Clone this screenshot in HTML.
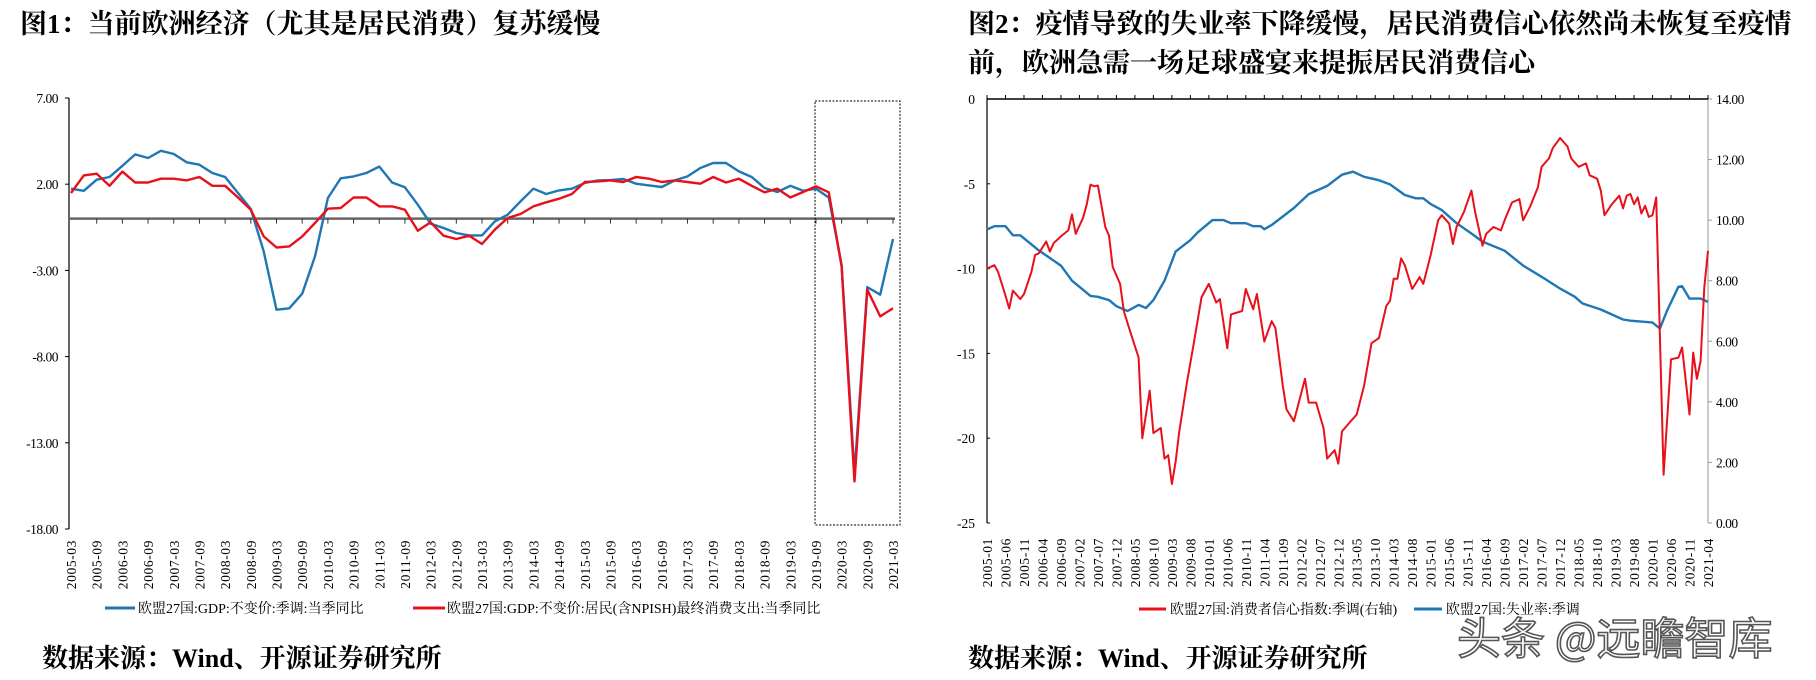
<!DOCTYPE html>
<html><head><meta charset="utf-8"><style>
html,body{margin:0;padding:0;background:#fff;}
svg{display:block;}
.t{font-family:"Liberation Serif","Noto Serif CJK SC",serif;}
</style></head><body>
<svg id="svg" width="1816" height="680" viewBox="0 0 1816 680" xmlns="http://www.w3.org/2000/svg">
<text class="t" x="20" y="33" font-size="27" font-weight="bold" fill="#000">图1：当前欧洲经济（尤其是居民消费）复苏缓慢</text>
<text class="t" x="968" y="33" font-size="27" font-weight="bold" fill="#000">图2：疫情导致的失业率下降缓慢，居民消费信心依然尚未恢复至疫情</text>
<text class="t" x="968" y="72" font-size="27" font-weight="bold" fill="#000">前，欧洲急需一场足球盛宴来提振居民消费信心</text>
<g id="c1"></g>
<g id="c2"></g>
<text class="t" x="42" y="667" font-size="26" font-weight="bold" fill="#000">数据来源：Wind、开源证券研究所</text>
<text class="t" x="968" y="667" font-size="26" font-weight="bold" fill="#000">数据来源：Wind、开源证券研究所</text>
<text x="1457" y="654" font-family="'Noto Sans CJK SC',sans-serif" font-size="44" fill="#fff" stroke="#555" stroke-width="1.6">头条 @远瞻智库</text>
</svg>
<script>
// ---- Chart 1 data (quarterly, 2005Q1..2021Q1)
const c1Start = 2005;
const c1Ticks = [7, 2, -3, -8, -13, -18];
const gdpValues = [1.74,1.62,2.26,2.42,3.07,3.73,3.52,3.94,3.75,3.27,3.13,2.65,2.42,1.49,0.56,-1.9,-5.28,-5.2,-4.35,-2.19,1.2,2.34,2.45,2.65,3.02,2.1,1.82,0.81,-0.29,-0.54,-0.83,-0.97,-0.97,-0.16,0.23,1.0,1.74,1.43,1.64,1.74,2.07,2.22,2.24,2.3,2.03,1.93,1.84,2.22,2.45,2.94,3.23,3.23,2.74,2.42,1.78,1.55,1.91,1.62,1.74,1.23,-2.67,-14.76,-3.97,-4.41,-1.18];
const consValues = [1.49,2.51,2.61,1.91,2.73,2.1,2.1,2.32,2.32,2.22,2.42,1.91,1.91,1.23,0.52,-1.03,-1.67,-1.61,-1.03,-0.25,0.58,0.62,1.23,1.23,0.71,0.71,0.52,-0.7,-0.21,-0.99,-1.18,-0.99,-1.47,-0.64,0.04,0.27,0.71,0.95,1.16,1.43,2.13,2.16,2.22,2.13,2.42,2.32,2.13,2.22,2.13,2.03,2.42,2.1,2.32,1.91,1.53,1.74,1.23,1.55,1.87,1.53,-2.77,-15.24,-4.12,-5.67,-5.19];
// ---- Chart 2 data (monthly, months since 2005-01)
const c2LeftTicks = [0,-5,-10,-15,-20,-25];
const c2RightTicks = [14,12,10,8,6,4,2,0];
const confMonths = [0,2,3,5,6,7,9,10,12,13,14,16,17,18,20,22,23,24,26,27,28,29,30,32,33,34,36,37,38,39,41,42,44,45,47,48,49,50,51,52,54,56,58,60,62,63,65,66,69,70,72,73,75,77,78,80,81,83,86,87,89,91,92,94,95,96,98,100,102,104,106,108,109,110,111,112,113,115,117,118,120,122,123,125,126,127,129,131,132,134,135,137,139,140,142,144,145,147,149,150,152,153,155,157,158,160,162,163,165,166,167,169,171,172,173,174,175,176,177,178,179,180,181,183,185,187,188,190,191,192,193,194,195];
const confValues = [-10.0,-9.8,-10.2,-11.6,-12.35,-11.3,-11.8,-11.5,-10.2,-9.2,-9.1,-8.4,-9.0,-8.5,-8.1,-7.75,-6.8,-7.95,-7.0,-6.2,-5.05,-5.15,-5.1,-7.55,-8.05,-9.9,-10.9,-12.5,-13.2,-13.9,-15.25,-20.0,-17.2,-19.7,-19.4,-21.2,-21.0,-22.7,-21.4,-19.6,-16.8,-14.3,-11.7,-10.9,-12.0,-11.8,-14.7,-12.7,-12.5,-11.2,-12.4,-11.5,-14.3,-13.1,-13.5,-16.9,-18.3,-19.0,-16.5,-17.9,-17.9,-19.4,-21.2,-20.7,-21.5,-19.6,-19.1,-18.6,-16.9,-14.4,-14.1,-12.2,-11.9,-10.6,-10.6,-9.4,-9.8,-11.2,-10.5,-10.9,-9.2,-7.15,-6.85,-7.35,-8.55,-7.55,-6.65,-5.4,-6.65,-8.65,-7.95,-7.55,-7.75,-7.15,-6.1,-5.9,-7.15,-6.3,-5.2,-4.0,-3.5,-2.9,-2.3,-2.8,-3.5,-4.0,-3.8,-4.5,-4.7,-5.4,-6.85,-6.2,-5.7,-6.45,-5.7,-5.6,-6.2,-5.8,-6.75,-6.3,-6.95,-6.85,-5.8,-22.15,-15.35,-15.25,-14.65,-18.6,-14.95,-16.5,-15.45,-11.1,-8.95];
const unempMonths = [0,2,5,7,9,14,20,23,28,30,33,35,38,41,43,45,48,51,55,57,61,64,66,70,72,74,75,77,83,87,92,96,99,102,106,109,113,116,118,120,123,127,131,134,140,145,150,155,159,161,166,172,174,180,182,184,187,188,190,193,195];
const unempValues = [9.69,9.8,9.8,9.5,9.5,9.0,8.5,8.0,7.5,7.47,7.36,7.16,7.0,7.2,7.1,7.36,8.0,8.96,9.34,9.6,10.0,10.0,9.9,9.9,9.8,9.8,9.7,9.84,10.4,10.86,11.13,11.5,11.6,11.43,11.32,11.18,10.83,10.72,10.72,10.53,10.33,9.9,9.56,9.29,8.99,8.5,8.13,7.74,7.47,7.25,7.05,6.72,6.68,6.62,6.42,7.03,7.8,7.82,7.41,7.41,7.3];

const NS='http://www.w3.org/2000/svg';
function mk(parent,tag,attrs,text){const e=document.createElementNS(NS,tag);for(const k in attrs)e.setAttribute(k,attrs[k]);if(text!==undefined)e.textContent=text;parent.appendChild(e);return e;}
const FONT='"Liberation Serif","Noto Serif CJK SC",serif';

// ===== Chart 1 =====
(function(){
const g=document.getElementById('c1');
const x0=71,x1=893,yTop=98,yBot=529;
const yv=v=>yTop+(7-v)*(yBot-yTop)/25;
const xq=i=>x0+i*(x1-x0)/(gdpValues.length-1);
let ax=mk(g,'line',{x1:69,y1:yTop,x2:69,y2:yBot,stroke:'#000','stroke-width':1.2});


c1Ticks.forEach(v=>{
  mk(g,'line',{x1:65,y1:yv(v),x2:69,y2:yv(v),stroke:'#000'});
  const t=mk(g,'text',{x:58,y:yv(v)+5,'text-anchor':'end','font-family':FONT,'font-size':13.5,'letter-spacing':'-0.5'},v.toFixed(2));
  
  
});
const zl=mk(g,'line',{x1:69,y1:yv(0),x2:895,y2:yv(0),stroke:'#666','stroke-width':2.5});


for(let i=0;i<gdpValues.length;i+=2){
  const x=xq(i);
  if(i>0) mk(g,'line',{x1:x,y1:yv(0),x2:x,y2:yv(0)+5,stroke:'#333'});
  const yr=c1Start+Math.floor(i/4), q=i%4;
  const lab=yr+'-'+(q===0?'03':'09');
  const t=mk(g,'text',{transform:`translate(${x+5},540) rotate(-90)`,'text-anchor':'end','font-family':FONT,'font-size':13.5,'letter-spacing':'0.6'},lab);
  
  
}
const box=mk(g,'rect',{x:815,y:101,width:85,height:424,fill:'none',stroke:'#000','stroke-width':1,'stroke-dasharray':'2,1.5'});


const pb=mk(g,'path',{d:gdpValues.map((v,i)=>(i?'L':'M')+xq(i).toFixed(1)+' '+yv(v).toFixed(1)).join(''),fill:'none',stroke:'#1f77b4','stroke-width':2.4,'stroke-linejoin':'round'});


const pr=mk(g,'path',{d:consValues.map((v,i)=>(i?'L':'M')+xq(i).toFixed(1)+' '+yv(v).toFixed(1)).join(''),fill:'none',stroke:'#e8101a','stroke-width':2.4,'stroke-linejoin':'round'});


const l1=mk(g,'line',{x1:105,y1:608,x2:135,y2:608,stroke:'#1f77b4','stroke-width':3});


const lt1=mk(g,'text',{x:138,y:613,'font-family':FONT,'font-size':14},'欧盟27国:GDP:不变价:季调:当季同比');


const l2=mk(g,'line',{x1:413,y1:608,x2:445,y2:608,stroke:'#e8101a','stroke-width':3});


const lt2=mk(g,'text',{x:447,y:613,'font-family':FONT,'font-size':14},'欧盟27国:GDP:不变价:居民(含NPISH)最终消费支出:当季同比');


})();

// ===== Chart 2 =====
(function(){
const g=document.getElementById('c2');
const x0=987,x1=1708,yTop=99,yBot=523,N=195;
const yl=v=>yTop+(0-v)*(yBot-yTop)/25;
const yr=v=>yTop+(14-v)*(yBot-yTop)/14;
const xm=m=>x0+m*(x1-x0)/N;
const la=mk(g,'line',{x1:x0,y1:yTop,x2:x0,y2:yBot,stroke:'#000','stroke-width':1.2});


const ra=mk(g,'line',{x1:x1,y1:yTop,x2:x1,y2:yBot,stroke:'#999','stroke-width':1});


const ta=mk(g,'line',{x1:x0,y1:yTop,x2:x1,y2:yTop,stroke:'#000','stroke-width':1.5});


c2LeftTicks.forEach(v=>{
  mk(g,'line',{x1:x0,y1:yl(v),x2:x0+3,y2:yl(v),stroke:'#000'});
  const t=mk(g,'text',{x:975,y:yl(v)+5,'text-anchor':'end','font-family':FONT,'font-size':13.5},String(v));
  
  
});
c2RightTicks.forEach(v=>{
  mk(g,'line',{x1:x1,y1:yr(v),x2:x1+4,y2:yr(v),stroke:'#999'});
  const t=mk(g,'text',{x:1716,y:yr(v)+5,'font-family':FONT,'font-size':13.5,'letter-spacing':'-0.5'},v.toFixed(2));
  
  
});
for(let m=0;m<=N;m+=5){
  const x=xm(m);
  mk(g,'line',{x1:x,y1:yTop-4,x2:x,y2:yTop,stroke:'#000'});
  const yy=2005+Math.floor(m/12), mo=m%12+1;
  const lab=yy+'-'+(mo<10?'0':'')+mo;
  const t=mk(g,'text',{transform:`translate(${x+5},538) rotate(-90)`,'text-anchor':'end','font-family':FONT,'font-size':13.5,'letter-spacing':'0.6'},lab);
  
  
}
const pu=mk(g,'path',{d:unempMonths.map((m,i)=>(i?'L':'M')+xm(m).toFixed(1)+' '+yr(unempValues[i]).toFixed(1)).join(''),fill:'none',stroke:'#1f77b4','stroke-width':2.4,'stroke-linejoin':'round'});


const pc=mk(g,'path',{d:confMonths.map((m,i)=>(i?'L':'M')+xm(m).toFixed(1)+' '+yl(confValues[i]).toFixed(1)).join(''),fill:'none',stroke:'#e8101a','stroke-width':2,'stroke-linejoin':'round'});


const l1=mk(g,'line',{x1:1139,y1:609,x2:1166,y2:609,stroke:'#e8101a','stroke-width':3});


const t1=mk(g,'text',{x:1170,y:614,'font-family':FONT,'font-size':14},'欧盟27国:消费者信心指数:季调(右轴)');


const l2=mk(g,'line',{x1:1414,y1:609,x2:1442,y2:609,stroke:'#1f77b4','stroke-width':3});


const t2=mk(g,'text',{x:1446,y:614,'font-family':FONT,'font-size':14},'欧盟27国:失业率:季调');


})();
</script>
</body></html>
